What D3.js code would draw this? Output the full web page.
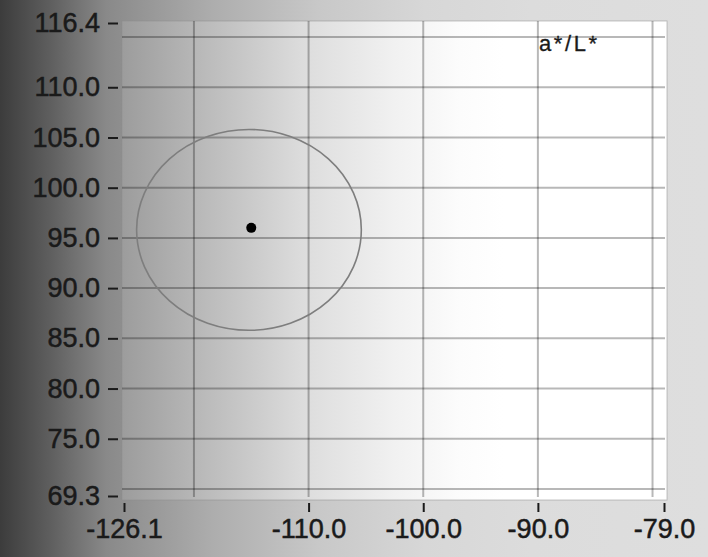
<!DOCTYPE html>
<html>
<head>
<meta charset="utf-8">
<script src="https://cdn.jsdelivr.net/npm/d3@7"></script>
<style>
  body { margin: 0; background: #dcdcdc; }
  svg { display: block; font-family: "Liberation Sans", Arial, sans-serif; }
</style>
</head>
<body>
<div id="chart"></div>
<script>
// axis ranges and ticks
let xDomain = [-126.1, -79.0];
let yDomain = [69.3, 116.4];
let xTickValues = [-126.1, -110.0, -100.0, -90.0, -79.0];
let yTickValues = [116.4, 110.0, 105.0, 100.0, 95.0, 90.0, 85.0, 80.0, 75.0, 69.3];
let xGridValues = [-120, -110, -100, -90, -80];
let yGridValues = [70, 75, 80, 85, 90, 95, 100, 105, 110, 115];

// measured point (a*, L*) and its tolerance ellipse
let pointA = [-115.0];
let pointL = [96.0];
let ellipseCenter = [-115.2, 95.8];
let ellipseRadius = [9.8, 10.0];
let plotLabel = "a*/L*";

let W = 708, H = 557;
let svg = d3.select("#chart").append("svg")
  .attr("width", W)
  .attr("height", H);

let defs = svg.append("defs");

// outer panel gradient
let bg = defs.append("linearGradient").attr("id", "bgGrad")
  .attr("x1", 0).attr("x2", 1).attr("y1", 0).attr("y2", 0);
[[0, "#3c3c3c"], [0.07, "#5e5e5e"], [0.15, "#898989"], [0.3, "#adadad"],
 [0.45, "#c8c8c8"], [0.6, "#d7d7d7"], [0.75, "#dcdcdc"], [1, "#dedede"]]
  .forEach(s => bg.append("stop").attr("offset", s[0]).attr("stop-color", s[1]));

// plot area gradient
let pg = defs.append("linearGradient").attr("id", "plotGrad")
  .attr("x1", 0).attr("x2", 1).attr("y1", 0).attr("y2", 0);
[[0, "#9c9c9c"], [0.15, "#bababa"], [0.33, "#dcdcdc"], [0.5, "#f1f1f1"],
 [0.62, "#fcfcfc"], [0.7, "#ffffff"], [1, "#ffffff"]]
  .forEach(s => pg.append("stop").attr("offset", s[0]).attr("stop-color", s[1]));

svg.append("rect")
  .attr("width", W).attr("height", H)
  .attr("fill", "url(#bgGrad)");

let x = d3.scaleLinear().domain(xDomain).range([124, 664]);
let y = d3.scaleLinear().domain(yDomain).range([496, 23]);

let plotLeft = 122, plotRight = 667, plotTop = 21, plotBottom = 500;

svg.append("rect")
  .attr("x", plotLeft).attr("y", plotTop)
  .attr("width", plotRight - plotLeft)
  .attr("height", plotBottom - plotTop)
  .attr("fill", "url(#plotGrad)")
  .attr("stroke", "#8c8c8c")
  .attr("stroke-opacity", 0.5)
  .attr("stroke-width", 1);

// grid lines
let grid = svg.append("g").attr("class", "grid")
  .attr("stroke", "#000")
  .attr("stroke-opacity", 0.28)
  .attr("stroke-width", 2);

grid.selectAll(".vgrid").data(xGridValues).enter().append("line")
  .attr("class", "vgrid")
  .attr("x1", d => x(d)).attr("x2", d => x(d))
  .attr("y1", plotTop).attr("y2", plotBottom - 3);

grid.selectAll(".hgrid").data(yGridValues).enter().append("line")
  .attr("class", "hgrid")
  .attr("x1", plotLeft).attr("x2", plotRight - 2)
  .attr("y1", d => y(d)).attr("y2", d => y(d));

// axes (plain hyphen for the minus sign, like the original)
let fmt = d => d.toFixed(1);

let yAxis = svg.append("g")
  .attr("transform", "translate(118,0)")
  .call(d3.axisLeft(y).tickValues(yTickValues).tickSize(10).tickPadding(8).tickFormat(fmt));

let xAxis = svg.append("g")
  .attr("transform", "translate(0,503)")
  .call(d3.axisBottom(x).tickValues(xTickValues).tickSize(9).tickPadding(7).tickFormat(fmt));

[xAxis, yAxis].forEach(a => {
  a.select(".domain").remove();
  a.selectAll(".tick line").attr("stroke", "#1a1a1a").attr("stroke-width", 2);
  a.selectAll(".tick text")
    .attr("fill", "#1a1a1a")
    .attr("stroke", "#1a1a1a")
    .attr("stroke-width", 0.5)
    .style("font-size", "27px")
    .style("font-family", "'Liberation Sans', Arial, sans-serif");
});

// tolerance ellipse
svg.append("ellipse")
  .attr("cx", x(ellipseCenter[0]))
  .attr("cy", y(ellipseCenter[1]))
  .attr("rx", x(ellipseCenter[0] + ellipseRadius[0]) - x(ellipseCenter[0]))
  .attr("ry", y(ellipseCenter[1]) - y(ellipseCenter[1] + ellipseRadius[1]))
  .attr("fill", "none")
  .attr("stroke", "#7e7e7e")
  .attr("stroke-width", 1.6);

// measured point
svg.selectAll(".pt").data(pointA).enter().append("circle")
  .attr("class", "pt")
  .attr("cx", d => x(d))
  .attr("cy", (d, i) => y(pointL[i]))
  .attr("r", 5)
  .attr("fill", "#000");

// plot label
svg.append("text")
  .attr("x", 539)
  .attr("y", 51)
  .attr("fill", "#1a1a1a")
  .attr("stroke", "#1a1a1a")
  .attr("stroke-width", 0.3)
  .attr("textLength", 58)
  .attr("lengthAdjust", "spacing")
  .style("font-size", "22px")
  .text(plotLabel);
</script>
</body>
</html>
